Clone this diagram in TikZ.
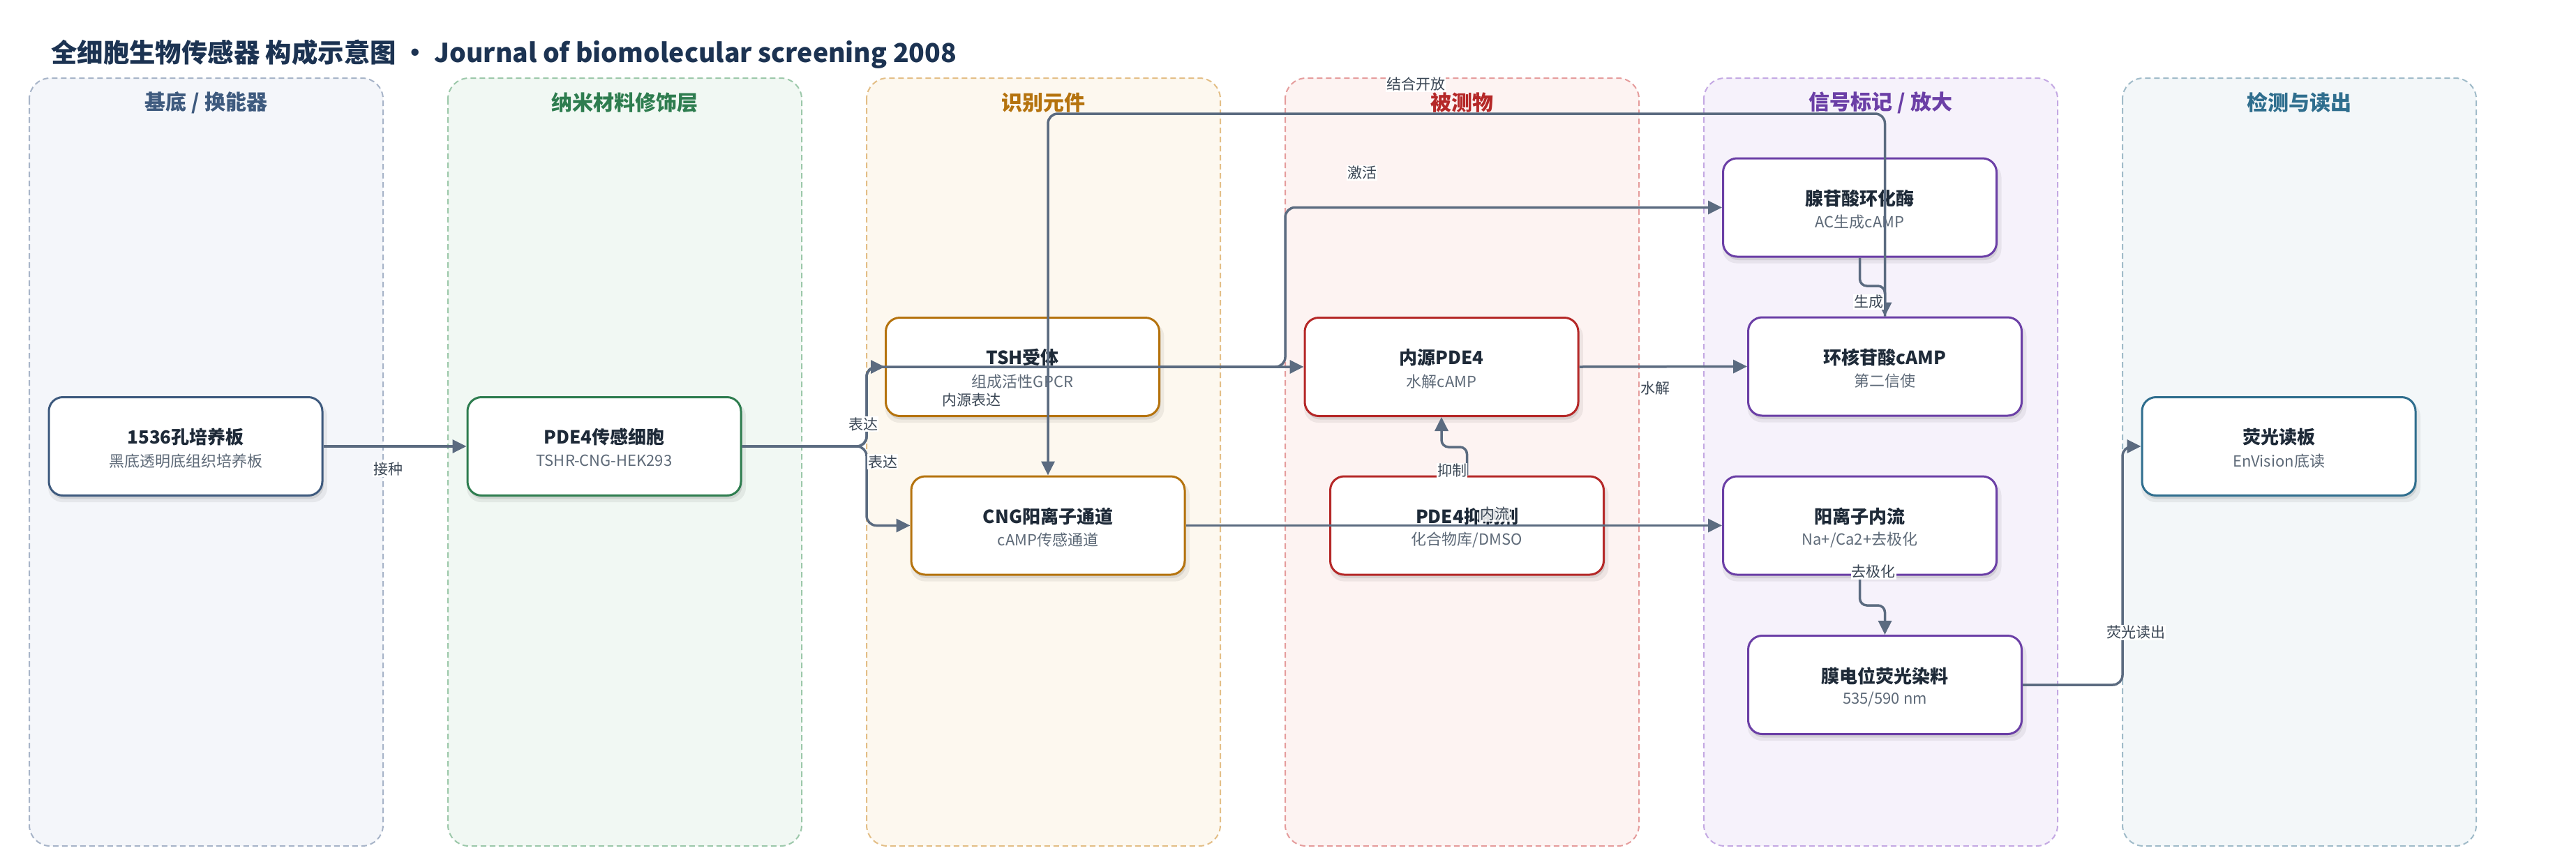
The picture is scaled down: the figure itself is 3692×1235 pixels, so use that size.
\documentclass[tikz,border=0pt]{standalone}
\usepackage{fontspec}
\setmainfont{Noto Sans CJK SC}
\usetikzlibrary{arrows.meta,shadows,calc}

\definecolor{edgec}{HTML}{5B6B80}
\definecolor{titlec}{HTML}{1C3352}
\definecolor{ntc}{HTML}{1E2A38}
\definecolor{nsc}{HTML}{5E6A78}
\definecolor{lbc}{HTML}{3B4755}
\definecolor{laneAb}{HTML}{A7B4C8}\definecolor{laneAf}{HTML}{F4F6FA}\definecolor{laneA}{HTML}{3E5A7E}
\definecolor{laneBb}{HTML}{9CC8AA}\definecolor{laneBf}{HTML}{F1F8F3}\definecolor{laneB}{HTML}{2E7D4F}
\definecolor{laneCb}{HTML}{E3BE86}\definecolor{laneCf}{HTML}{FDF8EF}\definecolor{laneC}{HTML}{B5730E}
\definecolor{laneDb}{HTML}{E59C9C}\definecolor{laneDf}{HTML}{FDF3F2}\definecolor{laneD}{HTML}{B52828}
\definecolor{laneEb}{HTML}{C4A9E3}\definecolor{laneEf}{HTML}{F6F2FB}\definecolor{laneE}{HTML}{6B3FA6}
\definecolor{laneFb}{HTML}{A0BBC9}\definecolor{laneFf}{HTML}{F3F7F9}\definecolor{laneF}{HTML}{2F6E8E}

\tikzset{
  lanebox/.style={draw=#1b, fill=#1f, dash pattern=on 8pt off 5pt, line width=2pt, rounded corners=30pt},
  lanehead/.style={text=#1, font=\fontsize{30}{34}\selectfont\bfseries, inner sep=0pt},
  box/.style={draw=#1, fill=white, line width=3pt, rounded corners=20pt,
    minimum width=392pt, minimum height=141pt, inner sep=0pt,
    general shadow={fill=black, opacity=0.06, shadow xshift=3pt, shadow yshift=-8pt, shadow scale=1.02},
    general shadow={fill=black, opacity=0.09, shadow xshift=2pt, shadow yshift=-5pt}},
  ntitle/.style={text=ntc, font=\fontsize{26}{30}\selectfont\bfseries, inner sep=0pt},
  nsub/.style={text=nsc, font=\fontsize{22}{26}\selectfont, inner sep=0pt},
  edge/.style={draw=edgec, line width=3.5pt, line join=round, rounded corners=14pt,
    -{Triangle[length=20pt,width=19pt]}},
  elabel/.style={fill=white, text=lbc, font=\fontsize{21}{25}\selectfont, inner sep=1pt}
}

\newcommand\bionode[6]{%
  \node[box=#4] (#1) at (#2,#3) {};
  \node[ntitle] (#1t) at (#2,{#3-13}) {\vphantom{国}#5};
  \node[nsub] (#1s) at (#2,{#3+21}) {\vphantom{国}#6};
}

\begin{document}
\begin{tikzpicture}[x=1pt,y=-1pt]
\useasboundingbox[fill=white] (0,0) rectangle (3692,1235);

% title
\node[anchor=west, inner sep=0pt, text=titlec, font=\fontsize{37.4}{44}\selectfont\bfseries] (title) at (73,78)
  {全细胞生物传感器 构成示意图 • Journal of biomolecular screening 2008};

% lanes
\draw[lanebox=laneA] (42,112) rectangle (549,1213);
\draw[lanebox=laneB] (642,112) rectangle (1149,1213);
\draw[lanebox=laneC] (1242,112) rectangle (1749,1213);
\draw[lanebox=laneD] (1842,112) rectangle (2349,1213);
\draw[lanebox=laneE] (2442,112) rectangle (2949,1213);
\draw[lanebox=laneF] (3042,112) rectangle (3549,1213);

\node[lanehead=laneA] (h1) at (295.5,147) {\vphantom{国}基底 / 换能器};
\node[lanehead=laneB] (h2) at (895.5,147) {\vphantom{国}纳米材料修饰层};
\node[lanehead=laneC] (h3) at (1495.5,147) {\vphantom{国}识别元件};
\node[lanehead=laneD] (h4) at (2095.5,147) {\vphantom{国}被测物};
\node[lanehead=laneE] (h5) at (2695.5,147) {\vphantom{国}信号标记 / 放大};
\node[lanehead=laneF] (h6) at (3295.5,147) {\vphantom{国}检测与读出};

% nodes
\bionode{plate}{266}{640}{laneA}{1536孔培养板}{黑底透明底组织培养板}
\bionode{cell}{866}{640}{laneB}{PDE4传感细胞}{TSHR-CNG-HEK293}
\bionode{tsh}{1465.5}{526}{laneC}{TSH受体}{组成活性GPCR}
\bionode{cng}{1502}{753.5}{laneC}{CNG阳离子通道}{cAMP传感通道}
\bionode{pde}{2066}{526}{laneD}{内源PDE4}{水解cAMP}
\bionode{inh}{2102.5}{753.5}{laneD}{PDE4抑制剂}{化合物库/DMSO}
\bionode{ac}{2665.5}{297.5}{laneE}{腺苷酸环化酶}{AC生成cAMP}
\bionode{camp}{2701.5}{525.5}{laneE}{环核苷酸cAMP}{第二信使}
\bionode{flux}{2665.5}{753.5}{laneE}{阳离子内流}{Na+/Ca2+去极化}
\bionode{dye}{2701.5}{982}{laneE}{膜电位荧光染料}{535/590 nm}
\bionode{reader}{3266}{640}{laneF}{荧光读板}{EnVision底读}

% connectors
\coordinate (split) at (1242,640);
\coordinate (actc) at (1842,526);
\coordinate (inhj) at (2102.5,641);
\coordinate (genj) at (2665.5,410);
\coordinate (bindtop) at (2701.5,163);
\coordinate (depj) at (2665.5,868);
\coordinate (readj) at (3042,982);

\draw[edge] (plate.east) -- (cell.west);
\draw[edge] (cell.east) -- (split) |- (tsh.west);
\draw[edge] (cell.east) -- (split) |- (cng.west);
\draw[edge] (cell.east) -- (split) |- (pde.west);
\draw[edge] (tsh.east) -- (actc) |- (ac.west);
\draw[edge] (pde.east) -- (camp.west);
\draw[edge, rounded corners=10pt] (inh.north) -- (inhj) -| (pde.south);
\draw[edge, rounded corners=10pt] (ac.south) -- (genj) -| (camp.north);
\draw[edge] (camp.north) -- (bindtop) -| (cng.north);
\draw[edge] (cng.east) -- (flux.west);
\draw[edge, rounded corners=10pt] (flux.south) -- (depj) -| (dye.north);
\draw[edge] (dye.east) -- (readj) |- (reader.west);

% connector labels
\node[elabel] (lseed) at (556,673) {接种};
\node[elabel] (lexp1) at (1237,608) {表达};
\node[elabel] (lexp2) at (1265,662) {表达};
\node[elabel] (lendo) at (1392,574) {内源表达};
\node[elabel] (lact) at (1952,248) {激活};
\node[elabel] (lhyd) at (2372,557) {水解};
\node[elabel] (linh) at (2081,675) {抑制};
\node[elabel] (lgen) at (2678,433) {生成};
\node[elabel] (lbind) at (2029,121) {结合开放};
\node[elabel, fill opacity=0.85, text opacity=1] (lflux) at (2142,737) {内流};
\node[elabel] (ldep) at (2685,820) {去极化};
\node[elabel] (lread) at (3061,907) {荧光读出};
\end{tikzpicture}
\end{document}
